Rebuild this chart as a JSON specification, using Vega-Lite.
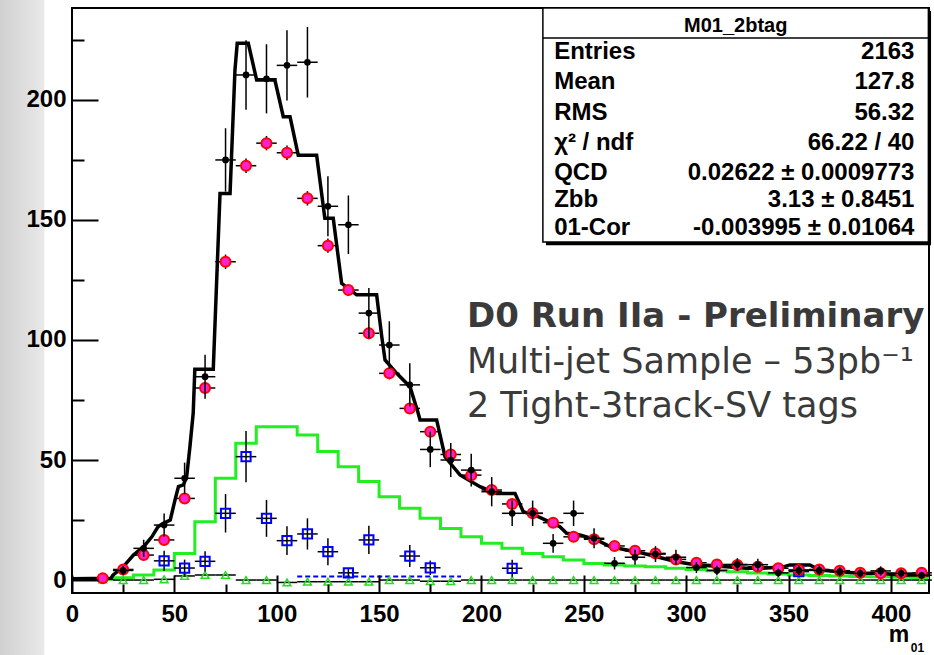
{
  "$schema": "https://vega.github.io/schema/vega-lite/v6.json",
  "width": 857,
  "height": 585,
  "autosize": {"type": "none"},
  "padding": {"left": 72, "top": 8, "right": 5, "bottom": 62},
  "background": "white",
  "config": {
    "view": {"stroke": "black", "strokeWidth": 2},
    "axis": {
      "grid": false,
      "domain": false,
      "zindex": 2,
      "labelFont": "Liberation Sans",
      "labelFontWeight": "bold",
      "labelFontSize": 24,
      "labelColor": "black",
      "tickColor": "black",
      "tickWidth": 2,
      "labelFlush": false,
      "labelOverlap": false
    },
    "text": {"font": "Liberation Sans"}
  },
  "resolve": {"axis": {"x": "independent", "y": "independent"}},
  "datasets": {
    "fit": [
      {"x": 0, "y": 0.5}, {"x": 19, "y": 0.7}, {"x": 20, "y": 2}, {"x": 25, "y": 5.5}, {"x": 30, "y": 10.4},
      {"x": 35, "y": 13.9}, {"x": 39, "y": 18}, {"x": 42, "y": 22.2}, {"x": 44.6, "y": 23.6}, {"x": 48, "y": 25},
      {"x": 50.3, "y": 33.3}, {"x": 52, "y": 38.9}, {"x": 54.4, "y": 39.6}, {"x": 56, "y": 43}, {"x": 57.6, "y": 55.5},
      {"x": 59.2, "y": 69.5}, {"x": 60, "y": 87.8}, {"x": 69, "y": 87.8}, {"x": 72.3, "y": 161}, {"x": 77.2, "y": 161},
      {"x": 79.6, "y": 212.5}, {"x": 80.7, "y": 223.6}, {"x": 86.1, "y": 223.6}, {"x": 90.2, "y": 208.3}, {"x": 99.1, "y": 208.3},
      {"x": 103.2, "y": 193}, {"x": 106.5, "y": 193}, {"x": 110.5, "y": 177}, {"x": 119.5, "y": 177}, {"x": 123.5, "y": 150.7},
      {"x": 127.6, "y": 150.7}, {"x": 131.7, "y": 123.6}, {"x": 139, "y": 118.8}, {"x": 148.8, "y": 118.8}, {"x": 151.3, "y": 101.4},
      {"x": 152.9, "y": 91.7}, {"x": 158.6, "y": 86.1}, {"x": 165.1, "y": 80.5}, {"x": 169.1, "y": 69.5}, {"x": 170, "y": 66.7},
      {"x": 178.1, "y": 66.7}, {"x": 182.2, "y": 51.4}, {"x": 186.2, "y": 47.2}, {"x": 189.5, "y": 43.8}, {"x": 199.3, "y": 38.9},
      {"x": 207.4, "y": 36.1}, {"x": 216.4, "y": 36.1}, {"x": 220.4, "y": 28.5}, {"x": 227.7, "y": 26.4}, {"x": 238.3, "y": 22.2},
      {"x": 241.6, "y": 19.5}, {"x": 248.1, "y": 18.8}, {"x": 256.3, "y": 16.7}, {"x": 262.8, "y": 13.9}, {"x": 270.9, "y": 12.5},
      {"x": 277.4, "y": 11.4}, {"x": 285.6, "y": 9.7}, {"x": 295.3, "y": 7.6}, {"x": 305.1, "y": 6.3}, {"x": 319.7, "y": 5.5},
      {"x": 329.5, "y": 4.9}, {"x": 337.6, "y": 4.9}, {"x": 347.4, "y": 5.5}, {"x": 350.7, "y": 6.3}, {"x": 360.4, "y": 6.3},
      {"x": 365.3, "y": 4.2}, {"x": 375.1, "y": 3.5}, {"x": 384.9, "y": 2.8}, {"x": 394.6, "y": 2.8}, {"x": 404.4, "y": 2.1},
      {"x": 418.6, "y": 2.1}
    ],
    "green": [
      {"x": 0, "y": 0.3}, {"x": 10, "y": 0.3}, {"x": 20, "y": 1}, {"x": 30, "y": 2.1}, {"x": 40, "y": 4.2},
      {"x": 50, "y": 11.1}, {"x": 60, "y": 24.3}, {"x": 70, "y": 42.4}, {"x": 80, "y": 57}, {"x": 90, "y": 63.9},
      {"x": 100, "y": 63.9}, {"x": 110, "y": 60.4}, {"x": 120, "y": 53.5}, {"x": 130, "y": 47.2}, {"x": 140, "y": 41},
      {"x": 150, "y": 34.7}, {"x": 160, "y": 29.9}, {"x": 170, "y": 25.7}, {"x": 180, "y": 21.5}, {"x": 190, "y": 18},
      {"x": 200, "y": 15.3}, {"x": 210, "y": 13.2}, {"x": 220, "y": 11.1}, {"x": 230, "y": 9.7}, {"x": 240, "y": 8.3},
      {"x": 250, "y": 6.9}, {"x": 260, "y": 6.3}, {"x": 270, "y": 5.8}, {"x": 280, "y": 5.5}, {"x": 290, "y": 4.9},
      {"x": 300, "y": 4.4}, {"x": 310, "y": 3.9}, {"x": 320, "y": 3.5}, {"x": 330, "y": 2.9}, {"x": 340, "y": 2.5},
      {"x": 350, "y": 2.1}, {"x": 360, "y": 1.9}, {"x": 370, "y": 1.7}, {"x": 380, "y": 1.5}, {"x": 390, "y": 1.4},
      {"x": 400, "y": 1.2}, {"x": 410, "y": 1.1}, {"x": 420, "y": 1.1}
    ],
    "bluelow": [{"x": 110, "y": 1.5}, {"x": 190, "y": 1.5}],
    "black": [
      {"x": 25, "y": 4, "e": 2}, {"x": 35, "y": 13.2, "e": 3.6}, {"x": 45, "y": 22.9, "e": 4.8}, {"x": 55, "y": 42.4, "e": 6.5},
      {"x": 65, "y": 84.7, "e": 9.2}, {"x": 75, "y": 175, "e": 13.2}, {"x": 85, "y": 210.4, "e": 14.5}, {"x": 95, "y": 208.8, "e": 14.4},
      {"x": 105, "y": 214.4, "e": 14.6}, {"x": 115, "y": 215.7, "e": 14.7}, {"x": 125, "y": 155.7, "e": 12.5}, {"x": 135, "y": 148, "e": 12.2},
      {"x": 145, "y": 111.2, "e": 10.5}, {"x": 155, "y": 97.9, "e": 9.9}, {"x": 165, "y": 81.3, "e": 9}, {"x": 175, "y": 54.4, "e": 7.4},
      {"x": 185, "y": 50, "e": 7.1}, {"x": 195, "y": 45.8, "e": 6.8}, {"x": 205, "y": 36.8, "e": 6.1}, {"x": 215, "y": 27.8, "e": 5.3},
      {"x": 225, "y": 27.8, "e": 5.3}, {"x": 235, "y": 15.3, "e": 3.9}, {"x": 245, "y": 27.8, "e": 5.3}, {"x": 255, "y": 17.4, "e": 4.2},
      {"x": 265, "y": 7, "e": 2.6}, {"x": 275, "y": 9.5, "e": 3.1}, {"x": 285, "y": 10.8, "e": 3.3}, {"x": 295, "y": 9.5, "e": 3.1},
      {"x": 305, "y": 5.2, "e": 2.3}, {"x": 315, "y": 4, "e": 2}, {"x": 325, "y": 6.5, "e": 2.6}, {"x": 335, "y": 6.4, "e": 2.5},
      {"x": 345, "y": 3, "e": 1.7}, {"x": 355, "y": 4, "e": 2}, {"x": 365, "y": 4, "e": 2}, {"x": 375, "y": 3.5, "e": 1.9},
      {"x": 385, "y": 2.8, "e": 1.7}, {"x": 395, "y": 3.8, "e": 1.9}, {"x": 405, "y": 2.8, "e": 1.7}, {"x": 415, "y": 2, "e": 1.4}
    ],
    "red": [
      {"x": 15, "y": 0.7, "e": 0.5}, {"x": 25, "y": 4.4, "e": 1}, {"x": 35, "y": 10.4, "e": 1}, {"x": 45, "y": 16.7, "e": 1.5},
      {"x": 55, "y": 34, "e": 2}, {"x": 65, "y": 80, "e": 2.5}, {"x": 75, "y": 132.6, "e": 3}, {"x": 85, "y": 172.6, "e": 3},
      {"x": 95, "y": 182, "e": 3}, {"x": 105, "y": 178, "e": 3}, {"x": 115, "y": 159, "e": 3}, {"x": 125, "y": 139.3, "e": 3},
      {"x": 135, "y": 120.8, "e": 2.5}, {"x": 145, "y": 102.8, "e": 2.5}, {"x": 155, "y": 86.1, "e": 2.5}, {"x": 165, "y": 71.5, "e": 2},
      {"x": 175, "y": 61.8, "e": 2}, {"x": 185, "y": 52.3, "e": 2}, {"x": 195, "y": 43.7, "e": 2}, {"x": 205, "y": 37.5, "e": 1.5},
      {"x": 215, "y": 31.7, "e": 1.5}, {"x": 225, "y": 27.8, "e": 1.5}, {"x": 235, "y": 23.9, "e": 1.5}, {"x": 245, "y": 18, "e": 1.2},
      {"x": 255, "y": 17, "e": 1.2}, {"x": 265, "y": 14.2, "e": 1.2}, {"x": 275, "y": 12.2, "e": 1}, {"x": 285, "y": 11.1, "e": 1},
      {"x": 295, "y": 8.6, "e": 1}, {"x": 305, "y": 7.2, "e": 1}, {"x": 315, "y": 6.5, "e": 1}, {"x": 325, "y": 6.3, "e": 1},
      {"x": 335, "y": 5.5, "e": 1}, {"x": 345, "y": 4.9, "e": 0.8}, {"x": 355, "y": 4.2, "e": 0.8}, {"x": 365, "y": 4.4, "e": 0.8},
      {"x": 375, "y": 3.9, "e": 0.8}, {"x": 385, "y": 3, "e": 0.7}, {"x": 395, "y": 2.8, "e": 0.7}, {"x": 405, "y": 2.8, "e": 0.7},
      {"x": 415, "y": 3, "e": 0.7}
    ],
    "blue": [
      {"x": 45, "y": 8, "e": 4.2}, {"x": 55, "y": 5, "e": 3.5}, {"x": 65, "y": 7.8, "e": 4.2}, {"x": 75, "y": 27.8, "e": 8},
      {"x": 85, "y": 51.4, "e": 10.7}, {"x": 95, "y": 25.7, "e": 7.7}, {"x": 105, "y": 16.4, "e": 6}, {"x": 115, "y": 19.2, "e": 6.5},
      {"x": 125, "y": 11.8, "e": 5.6}, {"x": 135, "y": 3, "e": 2}, {"x": 145, "y": 16.7, "e": 5.9}, {"x": 165, "y": 10, "e": 4.6},
      {"x": 175, "y": 5.1, "e": 3}, {"x": 215, "y": 4.9, "e": 3.5}, {"x": 355, "y": 3.5, "e": 1.5}
    ],
    "tri": [
      {"x": 15, "y": 0.3}, {"x": 25, "y": 0}, {"x": 35, "y": 0}, {"x": 45, "y": 0.3}, {"x": 55, "y": 1.7}, {"x": 65, "y": 2.1},
      {"x": 75, "y": 2.1}, {"x": 85, "y": 0}, {"x": 95, "y": 0}, {"x": 105, "y": -1}, {"x": 115, "y": -0.7}, {"x": 125, "y": -0.7},
      {"x": 135, "y": -0.7}, {"x": 145, "y": -0.7}, {"x": 155, "y": 0}, {"x": 165, "y": 0}, {"x": 175, "y": -0.5}, {"x": 185, "y": -0.5},
      {"x": 195, "y": 0}, {"x": 205, "y": 0}, {"x": 215, "y": 0}, {"x": 225, "y": 0}, {"x": 235, "y": 0}, {"x": 245, "y": 0},
      {"x": 255, "y": 0}, {"x": 265, "y": 0}, {"x": 275, "y": 0}, {"x": 285, "y": 0}, {"x": 295, "y": 0}, {"x": 305, "y": 0},
      {"x": 315, "y": 0}, {"x": 325, "y": 0}, {"x": 335, "y": 0}, {"x": 345, "y": 0}, {"x": 355, "y": 0}, {"x": 365, "y": 0},
      {"x": 375, "y": 0}, {"x": 385, "y": 0}, {"x": 395, "y": 0}, {"x": 405, "y": 0}, {"x": 415, "y": 0}
    ],
    "strip": [{"x": -35.2, "x2": -13.5, "y": -32, "y2": 242}],
    "shadow": [{"x": 231.5, "x2": 419.6, "y": 139.5, "y2": 237}],
    "box": [{"x": 230, "x2": 418.3, "y": 140.8, "y2": 238.3}],
    "sep": [{"x": 230, "x2": 418.3, "y": 225.8}],
    "boxtitle": [{"x": 324.2, "y": 231, "t": "M01_2btag"}],
    "stats": [
      {"t": "Entries", "v": "2163", "x": 235.5, "xv": 411.5, "y": 220},
      {"t": "Mean", "v": "127.8", "x": 235.5, "xv": 411.5, "y": 207.5},
      {"t": "RMS", "v": "56.32", "x": 235.5, "xv": 411.5, "y": 194.6},
      {"t": "χ² / ndf", "v": "66.22 / 40", "x": 235.5, "xv": 411.5, "y": 182},
      {"t": "QCD", "v": "0.02622 ± 0.0009773", "x": 235.5, "xv": 411.5, "y": 169.6},
      {"t": "Zbb", "v": "3.13 ± 0.8451", "x": 235.5, "xv": 411.5, "y": 158.3},
      {"t": "01-Cor", "v": "-0.003995 ± 0.01064", "x": 235.5, "xv": 411.5, "y": 146.7}
    ],
    "headline": [{"t": "D0 Run IIa - Preliminary", "x": 192.9, "y": 105.5}],
    "notes": [
      {"t": "Multi-jet Sample – 53pb⁻¹", "x": 192.9, "y": 86.3},
      {"t": "2 Tight-3track-SV tags", "x": 192.9, "y": 68}
    ],
    "xtitle": [{"t": "m", "x": 403.9, "y": -25.8}],
    "xsub": [{"t": "01", "x": 409.7, "y": -30}]
  },
  "encoding": {
    "x": {"field": "x", "type": "quantitative", "title": null, "scale": {"domain": [0, 418.6], "nice": false, "zero": false}, "axis": null},
    "y": {"field": "y", "type": "quantitative", "title": null, "scale": {"domain": [-5.4, 238.3], "nice": false, "zero": false}, "axis": null}
  },
  "layer": [
    {
      "data": {"name": "strip"},
      "mark": {"type": "rect", "fill": {"gradient": "linear", "x1": 0, "y1": 0, "x2": 1, "y2": 0, "stops": [{"offset": 0, "color": "#d0d0d0"}, {"offset": 1, "color": "#e9e9e9"}]}},
      "encoding": {"x2": {"field": "x2"}, "y2": {"field": "y2"}}
    },
    {
      "data": {"name": "green"},
      "mark": {"type": "line", "interpolate": "step-after", "color": "#22ee22", "strokeWidth": 3, "clip": true},
      "encoding": {
        "x": {"field": "x", "type": "quantitative", "title": null, "scale": {"domain": [0, 418.6], "nice": false, "zero": false},
              "axis": {"orient": "bottom", "zindex": 2, "values": [0, 50, 100, 150, 200, 250, 300, 350, 400], "tickSize": -18, "labelPadding": 27}},
        "y": {"field": "y", "type": "quantitative", "title": null, "scale": {"domain": [-5.4, 238.3], "nice": false, "zero": false},
              "axis": {"orient": "left", "zindex": 2, "values": [0, 50, 100, 150, 200], "tickSize": -26, "labelPadding": 32}}
      }
    },
    {
      "data": {"name": "bluelow"},
      "mark": {"type": "line", "color": "#0000ee", "strokeWidth": 2, "strokeDash": [5, 3], "clip": true},
      "encoding": {}
    },
    {
      "data": {"name": "fit"},
      "mark": {"type": "line", "color": "black", "strokeWidth": 3.5, "clip": true},
      "encoding": {
        "x": {"field": "x", "type": "quantitative", "title": null, "scale": {"domain": [0, 418.6], "nice": false, "zero": false},
              "axis": {"orient": "bottom", "zindex": 2, "values": [25, 75, 125, 175, 225, 275, 325, 375], "tickSize": -9, "labels": false}},
        "y": {"field": "y", "type": "quantitative", "title": null, "scale": {"domain": [-5.4, 238.3], "nice": false, "zero": false},
              "axis": {"orient": "left", "zindex": 2, "values": [25, 75, 125, 175, 225], "tickSize": -12, "labels": false}}
      }
    },
    {
      "data": {"name": "tri"},
      "mark": {"type": "tick", "orient": "horizontal", "color": "black", "size": 20.5, "thickness": 1.5, "opacity": 1},
      "encoding": {}
    },
    {
      "data": {"name": "tri"},
      "mark": {"type": "point", "shape": "triangle-up", "filled": false, "color": "#22dd22", "strokeWidth": 1.5, "size": 60, "opacity": 1},
      "encoding": {}
    },
    {
      "data": {"name": "blue"},
      "mark": {"type": "tick", "orient": "horizontal", "color": "black", "size": 20.5, "thickness": 1.5, "opacity": 1},
      "encoding": {}
    },
    {
      "data": {"name": "blue"},
      "mark": {"type": "errorbar", "color": "black", "thickness": 1.5},
      "encoding": {"yError": {"field": "e"}}
    },
    {
      "data": {"name": "blue"},
      "mark": {"type": "point", "shape": "square", "filled": false, "color": "#0000ff", "strokeWidth": 2, "size": 85, "opacity": 1},
      "encoding": {}
    },
    {
      "data": {"name": "red"},
      "mark": {"type": "tick", "orient": "horizontal", "color": "black", "size": 20.5, "thickness": 1.5, "opacity": 1},
      "encoding": {}
    },
    {
      "data": {"name": "red"},
      "mark": {"type": "errorbar", "color": "black", "thickness": 1.5},
      "encoding": {"yError": {"field": "e"}}
    },
    {
      "data": {"name": "red"},
      "mark": {"type": "point", "shape": "circle", "filled": true, "fill": "#ff22cc", "stroke": "#ff0000", "strokeWidth": 2, "size": 100, "opacity": 1},
      "encoding": {}
    },
    {
      "data": {"name": "black"},
      "mark": {"type": "tick", "orient": "horizontal", "color": "black", "size": 20.5, "thickness": 1.5, "opacity": 1},
      "encoding": {}
    },
    {
      "data": {"name": "black"},
      "mark": {"type": "errorbar", "color": "black", "thickness": 1.5},
      "encoding": {"yError": {"field": "e"}}
    },
    {
      "data": {"name": "black"},
      "mark": {"type": "point", "shape": "circle", "filled": true, "color": "black", "size": 45, "opacity": 1},
      "encoding": {}
    },
    {
      "data": {"name": "shadow"},
      "mark": {"type": "rect", "fill": "black"},
      "encoding": {"x2": {"field": "x2"}, "y2": {"field": "y2"}}
    },
    {
      "data": {"name": "box"},
      "mark": {"type": "rect", "fill": "white", "stroke": "black", "strokeWidth": 1.5},
      "encoding": {"x2": {"field": "x2"}, "y2": {"field": "y2"}}
    },
    {
      "data": {"name": "sep"},
      "mark": {"type": "rule", "color": "black", "strokeWidth": 1.5},
      "encoding": {"x2": {"field": "x2"}}
    },
    {
      "data": {"name": "boxtitle"},
      "mark": {"type": "text", "font": "Liberation Sans", "fontWeight": "bold", "fontSize": 20, "color": "black", "align": "center", "baseline": "middle"},
      "encoding": {"text": {"field": "t"}}
    },
    {
      "data": {"name": "stats"},
      "mark": {"type": "text", "font": "Liberation Sans", "fontWeight": "bold", "fontSize": 24, "color": "black", "align": "left", "baseline": "middle"},
      "encoding": {"text": {"field": "t"}}
    },
    {
      "data": {"name": "stats"},
      "mark": {"type": "text", "font": "Liberation Sans", "fontWeight": "bold", "fontSize": 24, "color": "black", "align": "right", "baseline": "middle"},
      "encoding": {
        "x": {"field": "xv", "type": "quantitative", "title": null, "scale": {"domain": [0, 418.6], "nice": false, "zero": false}, "axis": null},
        "text": {"field": "v"}
      }
    },
    {
      "data": {"name": "headline"},
      "mark": {"type": "text", "font": "DejaVu Sans", "fontWeight": "bold", "fontSize": 34, "color": "#3a3a3a", "align": "left", "baseline": "alphabetic"},
      "encoding": {"text": {"field": "t"}}
    },
    {
      "data": {"name": "notes"},
      "mark": {"type": "text", "font": "DejaVu Sans", "fontSize": 35, "color": "#3a3a3a", "align": "left", "baseline": "alphabetic"},
      "encoding": {"text": {"field": "t"}}
    },
    {
      "data": {"name": "xtitle"},
      "mark": {"type": "text", "font": "Liberation Sans", "fontWeight": "bold", "fontSize": 23, "color": "black", "align": "center", "baseline": "alphabetic"},
      "encoding": {"text": {"field": "t"}}
    },
    {
      "data": {"name": "xsub"},
      "mark": {"type": "text", "font": "Liberation Sans", "fontWeight": "bold", "fontSize": 12, "color": "black", "align": "left", "baseline": "alphabetic"},
      "encoding": {"text": {"field": "t"}}
    }
  ]
}
